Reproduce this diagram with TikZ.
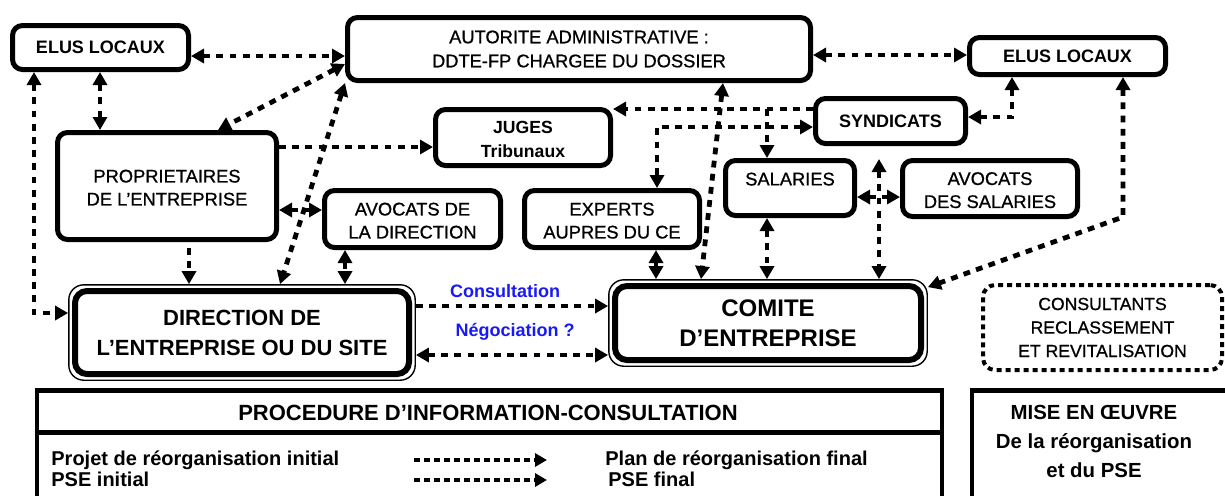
\documentclass[tikz,border=0pt]{standalone}
\usepackage{fontspec}
\setmainfont{Liberation Sans}
\newfontfamily\medfont{Liberation Sans}[FakeBold=0.8]
\usetikzlibrary{arrows.meta,fit}
\definecolor{lblue}{RGB}{25,25,245}
\begin{document}
\begin{tikzpicture}[x=0.5pt,y=-0.5pt,
  >={Triangle[length=6.5pt,width=7pt]},
  box/.style={draw, line width=2.5pt, rounded corners=5pt, align=center, inner sep=0pt, font=\medfont\fontsize{9.15}{11.5}\selectfont},
  boxb/.style={box, font=\fontsize{9}{12}\selectfont\bfseries},
  bigbox/.style={draw, line width=3pt, rounded corners=6pt, align=center, inner sep=0pt},
  outerline/.style={draw, line width=0.7pt, rounded corners=7.5pt, inner sep=1.6pt},
  dotbox/.style={draw, line width=2pt, dash pattern=on 2.5pt off 2pt, rounded corners=6pt, align=center, inner sep=0pt, font=\medfont\fontsize{8.8}{11.75}\selectfont},
  dl/.style={line width=2.4pt, dash pattern=on 3.4pt off 3.2pt},
  solidarrow/.style={line width=2.4pt},
  lbl/.style={text=lblue, font=\fontsize{9}{11}\selectfont\bfseries, inner sep=0pt},
  legtext/.style={font=\fontsize{10}{12}\selectfont\bfseries, inner sep=0pt},
  legarrow/.style={line width=2pt, dash pattern=on 3pt off 2pt, -{Triangle[length=6pt,width=6.5pt]}},
  frame/.style={line width=2.3pt}
]
\path[use as bounding box, fill=white] (0,0) rectangle (1225,495);

% boxes
\node[boxb, minimum width=88pt, minimum height=22pt] (elusL) at (100.5,47.5) {ELUS LOCAUX};
\node[box, minimum width=231.5pt, minimum height=31.5pt, font=\medfont\fontsize{9.15}{12}\selectfont] (autor) at (579,49) {AUTORITE ADMINISTRATIVE~:\\DDTE-FP CHARGEE DU DOSSIER};
\node[boxb, minimum width=98pt, minimum height=18.5pt] (elusR) at (1067.5,56) {ELUS LOCAUX};
\node[boxb, minimum width=75pt, minimum height=22.5pt] (synd) at (890.5,121) {SYNDICATS};
\node[boxb, minimum width=87.5pt, minimum height=28pt, font=\fontsize{8.8}{12}\selectfont\bfseries] (juges) at (523,137.5) {\strut JUGES\\Tribunaux};
\node[box, minimum width=109.5pt, minimum height=53.5pt] (propr) at (167,186) {\strut PROPRIETAIRES\\DE L’ENTREPRISE};
\node[box, minimum width=88pt, minimum height=28.5pt] (avocD) at (412.5,219) {\strut AVOCATS DE\\LA DIRECTION};
\node[box, minimum width=87.5pt, minimum height=28.5pt] (experts) at (612,219) {\strut EXPERTS\\AUPRES DU CE};
\node[box, minimum width=64.5pt, minimum height=27.5pt] (salar) at (790,188) {\raisebox{9pt}{SALARIES}};
\node[box, minimum width=87.5pt, minimum height=28pt] (avocS) at (990,188.5) {\strut AVOCATS\\DES SALARIES};
\node[bigbox, minimum width=167pt, minimum height=41.5pt, font=\fontsize{11}{15}\selectfont\bfseries] (dir) at (242,332.5) {DIRECTION DE\\L’ENTREPRISE OU DU SITE};
\node[outerline, fit=(dir)] (dirO) {};
\node[bigbox, minimum width=153pt, minimum height=37pt, font=\fontsize{12}{15}\selectfont\bfseries] (ce) at (768,323) {COMITE\\D’ENTREPRISE};
\node[outerline, fit=(ce)] (ceO) {};
\node[dotbox, minimum width=119.5pt, minimum height=42.5pt] (consult) at (1102.5,327.5) {CONSULTANTS\\RECLASSEMENT\\ET REVITALISATION};

% connectors
\draw[dl,<->] (elusL.east |- 0,56) -- (autor.west |- 0,56);
\draw[dl,<->] (elusL.south -| 34,0) |- (dirO.west |- 0,313);
\draw[dl,<->] (elusL.south -| 100,0) -- (propr.north -| 100,0);
\draw[dl,<->] (autor.west |- 0,64) -- (propr.north -| 218,0);
\draw[dl,<->] (autor.south west) -- (dirO.north -| 280,0);
\draw[dl,->] (propr.east |- 0,147) -- (juges.west |- 0,147);
\draw[dl,<->] (propr.east |- 0,210) -- (avocD.west |- 0,210);
\draw[dl,->, shorten <=3pt] (propr.south -| 189,0) -- (dirO.north -| 189,0);
\draw[dl,<->] (avocD.south -| 345,0) -- (dirO.north -| 345,0);
\draw[dl,->] (synd.west |- 0,109) -- (juges.east |- 0,109);
\coordinate (br) at (767,109);
\draw[dl,->] (br) -- (salar.north -| br);
\draw[dl,<->] (synd.west |- 0,127) -| (experts.north -| 657,0);
\draw[dl,<->] (autor.south -| 723,0) -- (ceO.north -| 701,0);
\draw[solidarrow,<->] (experts.south -| 656,0) -- (ceO.north -| 656,0);
\draw[dl,<->] (salar.south -| 767,0) -- (ceO.north -| 767,0);
\draw[dl,<->, shorten <=6.5pt] (synd.south -| 879,0) -- (ceO.north -| 879,0);
\draw[dl,<->] (salar.east |- 0,197) -- (avocS.west |- 0,197);
\draw[dl,<->] (autor.east |- 0,55) -- (elusR.west |- 0,55);
\draw[dl,<->] (elusR.south -| 1012,0) |- (synd.east |- 0,117);
\coordinate (bendR) at (1123,217);
\draw[dl,<->] (elusR.south -| bendR) -- (bendR) -- ([yshift=-4pt]ceO.north east);
\draw[dl,->] (dirO.east |- 0,306) -- node[lbl, xshift=-3.5pt, yshift=7.5pt] {Consultation} (ceO.west |- 0,306);
\draw[dl,<->] (dirO.east |- 0,355) -- node[lbl, xshift=1.5pt, yshift=11.5pt] {Négociation~?} (ceO.west |- 0,355);

% bottom frames
\draw[frame] (37,500) -- (37,390.5) -- (942,390.5) -- (942,500);
\draw[frame] (37,432.5) -- (942,432.5);
\draw[frame] (972,500) -- (972,390.5) -- (1230,390.5);
\node[font=\fontsize{11}{13}\selectfont\bfseries, inner sep=0pt, anchor=base] (proc) at (488,420) {PROCEDURE D’INFORMATION-CONSULTATION};
\node[legtext, anchor=base west] (p1) at (51,465) {Projet de réorganisation initial};
\node[legtext, anchor=base west] (p2) at (51,486) {PSE initial};
\node[legtext, anchor=base west] (f1) at (605,465) {Plan de réorganisation final};
\node[legtext, anchor=base west] (f2) at (608,486) {PSE final};
\coordinate (la1) at (414,460);
\coordinate (lb1) at (547,460);
\coordinate (la2) at (414,480);
\coordinate (lb2) at (547,480);
\draw[legarrow] (la1) -- (lb1);
\draw[legarrow] (la2) -- (lb2);
\node[font=\fontsize{10.2}{14.5}\selectfont\bfseries, align=center, inner sep=0pt] (mise) at (1094,441) {MISE EN ŒUVRE\\De la réorganisation\\et du PSE};
\end{tikzpicture}
\end{document}
